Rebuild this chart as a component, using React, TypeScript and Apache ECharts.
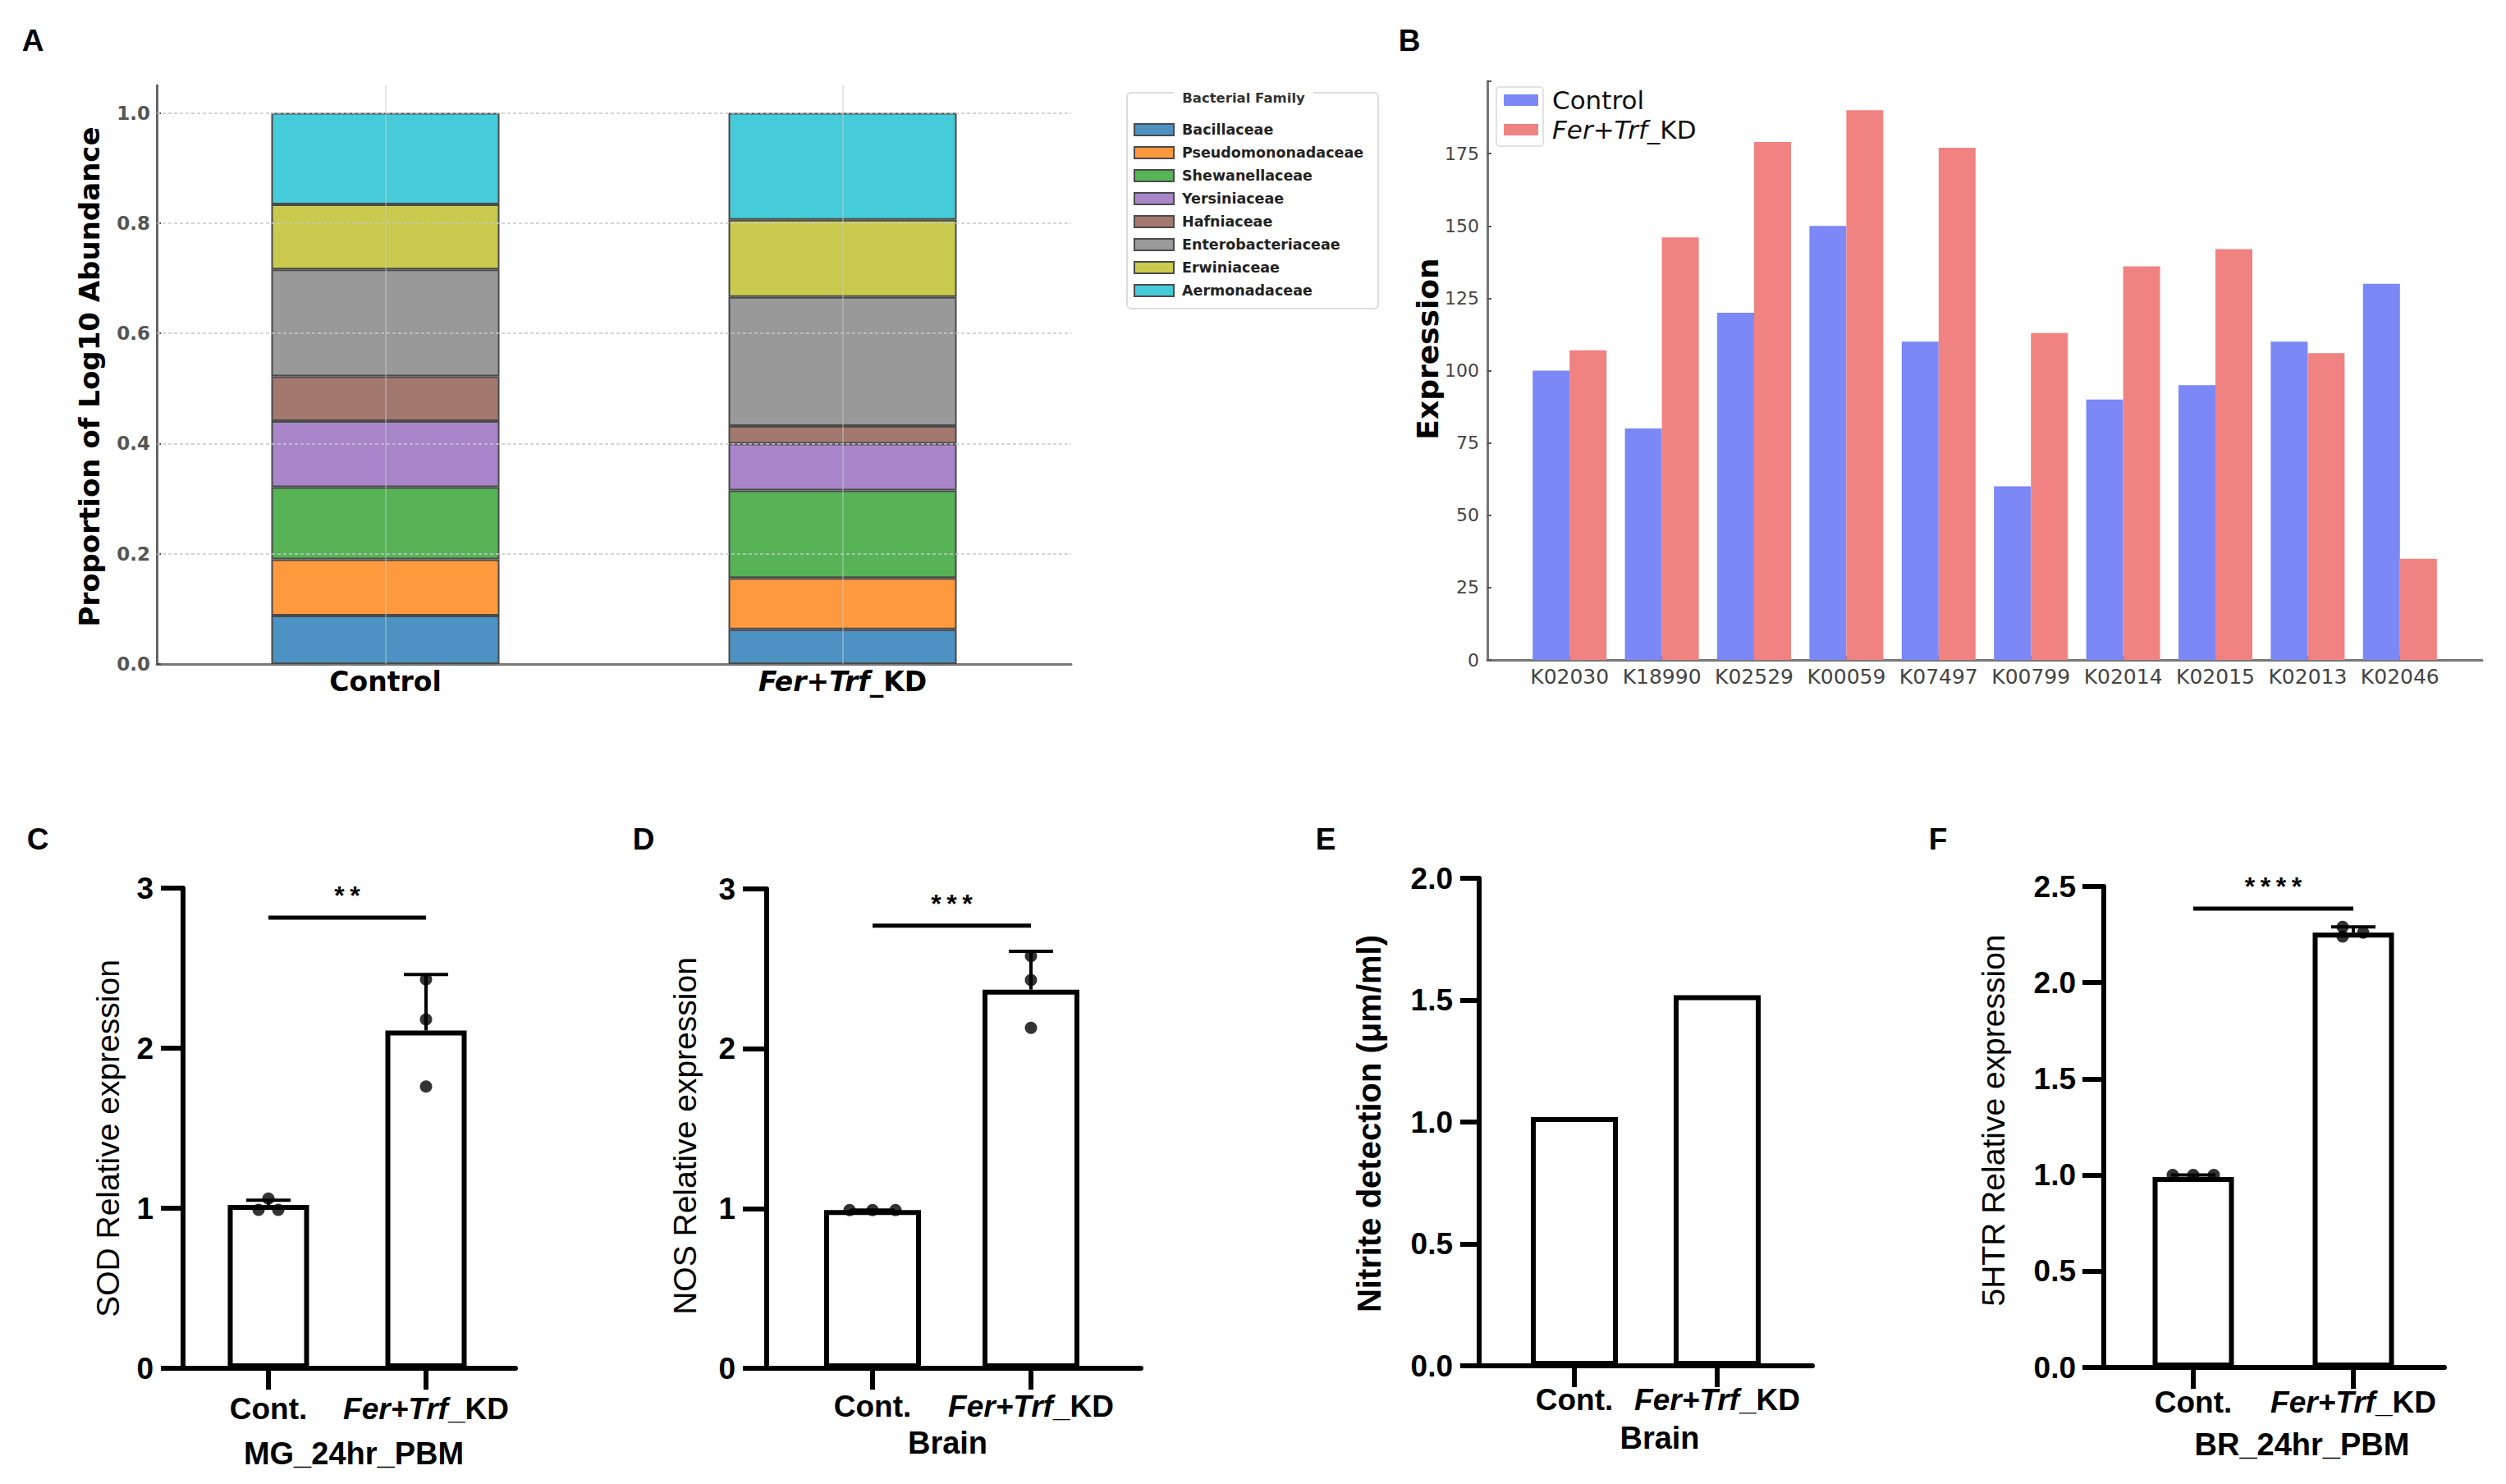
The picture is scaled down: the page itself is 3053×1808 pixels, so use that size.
import React, { useEffect, useRef } from 'react';
import * as echarts from 'echarts';

// ---------- Panel A data ----------
const familyNames = ['Bacillaceae', 'Pseudomononadaceae', 'Shewanellaceae', 'Yersiniaceae', 'Hafniaceae', 'Enterobacteriaceae', 'Erwiniaceae', 'Aermonadaceae'];
const abundanceGroups = ['Control', 'Fer+Trf_KD'];
const abundanceControl = [0.088, 0.102, 0.131, 0.120, 0.081, 0.194, 0.118, 0.166];
const abundanceKD = [0.063, 0.093, 0.159, 0.085, 0.032, 0.234, 0.140, 0.194];
const abundanceGridTicks = [0.2, 0.4, 0.6, 0.8, 1.0];

// ---------- Panel B data ----------
const koGenes = ['K02030', 'K18990', 'K02529', 'K00059', 'K07497', 'K00799', 'K02014', 'K02015', 'K02013', 'K02046'];
const koControl = [100, 80, 120, 150, 110, 60, 90, 95, 110, 130];
const koKD = [107, 146, 179, 190, 177, 113, 136, 142, 106, 35];
const koSeriesNames = ['Control', 'Fer+Trf_KD'];

// ---------- Panels C-F data ----------
const qGroups = ['Cont.', 'Fer+Trf_KD'];
const sodMeans = [1.02, 2.11];
const sodErrTop = [1.05, 2.46];
const sodDotsCont = [0.99, 1.06, 0.99];
const sodDotsKD = [2.43, 2.18, 1.76];
const sodSigLevel = 2.815;

const nosMeans = [0.99, 2.37];
const nosErrTop = [0.99, 2.61];
const nosDotsCont = [0.99, 0.99, 0.99];
const nosDotsKD = [2.58, 2.43, 2.13];
const nosSigLevel = 2.77;

const nitriteMeans = [1.02, 1.52];

const htrMeans = [0.99, 2.26];
const htrErrTop = [1.0, 2.29];
const htrDotsCont = [1.0, 1.0, 1.0];
const htrDotsKD = [2.29, 2.24, 2.26];
const htrSigLevel = 2.385;

// ---------- styles ----------
const familyColors = ['#4c92c3', '#ff993e', '#56b356', '#a985ca', '#a3786f', '#999999', '#c9ca4e', '#45cbd9'];
const koColors = ['#7b88f5', '#f08282'];
const DV = "'DejaVu Sans', sans-serif";
const GPF = "'Liberation Sans', Arial, sans-serif";

type GP = {
  axisX: number; top: number; bottom: number; xRight: number; c1: number; c2: number;
  max: number; interval: number; decimals: number; barWidth: number; tickLen: number;
  tickLabelMargin: number; labelMargin: number; group: string; groupGap: number; groupPad: number[];
  means: number[]; errTop?: number[]; dotsCont?: number[]; dotsKD?: number[];
  jitterCont?: number[]; jitterKD?: number[]; sigLevel?: number; sigText?: string;
  yName: string; yNameX: number; yNameY: number; yNameBold: boolean; yNameSize: number;
};

const panels: GP[] = [
  {
    axisX: 223, top: 1082, bottom: 1667, xRight: 628, c1: 327, c2: 519, max: 3, interval: 1, decimals: 0,
    barWidth: 99, tickLen: 27, tickLabelMargin: 36, labelMargin: 31, group: 'MG_24hr_PBM', groupGap: 85, groupPad: [0, 0, 0, 16],
    means: sodMeans, errTop: sodErrTop, dotsCont: sodDotsCont, dotsKD: sodDotsKD, jitterCont: [-12, 0, 12], jitterKD: [0, 0, 0],
    sigLevel: sodSigLevel, sigText: '**', yName: 'SOD Relative expression', yNameX: 131, yNameY: 1387, yNameBold: false, yNameSize: 39,
  },
  {
    axisX: 934, top: 1083, bottom: 1667, xRight: 1390, c1: 1063, c2: 1256, max: 3, interval: 1, decimals: 0,
    barWidth: 118, tickLen: 29, tickLabelMargin: 38, labelMargin: 28, group: 'Brain', groupGap: 72, groupPad: [0, 10, 0, 0],
    means: nosMeans, errTop: nosErrTop, dotsCont: nosDotsCont, dotsKD: nosDotsKD, jitterCont: [-28, 0, 28], jitterKD: [0, 0, 0],
    sigLevel: nosSigLevel, sigText: '***', yName: 'NOS Relative expression', yNameX: 834, yNameY: 1384, yNameBold: false, yNameSize: 39,
  },
  {
    axisX: 1802, top: 1070, bottom: 1664, xRight: 2208, c1: 1918, c2: 2092, max: 2, interval: 0.5, decimals: 1,
    barWidth: 106, tickLen: 23, tickLabelMargin: 32, labelMargin: 23, group: 'Brain', groupGap: 69, groupPad: [0, 0, 0, 34],
    means: nitriteMeans, yName: 'Nitrite detection (μm/ml)', yNameX: 1668, yNameY: 1369, yNameBold: true, yNameSize: 40,
  },
  {
    axisX: 2563, top: 1080, bottom: 1666, xRight: 2978, c1: 2672, c2: 2867, max: 2.5, interval: 0.5, decimals: 1,
    barWidth: 99, tickLen: 26, tickLabelMargin: 34, labelMargin: 24, group: 'BR_24hr_PBM', groupGap: 75, groupPad: [0, 0, 0, 70],
    means: htrMeans, errTop: htrErrTop, dotsCont: htrDotsCont, dotsKD: htrDotsKD, jitterCont: [-25, 0, 25], jitterKD: [-13, -13, 12],
    sigLevel: htrSigLevel, sigText: '****', yName: '5HTR Relative expression', yNameX: 2428, yNameY: 1365, yNameBold: false, yNameSize: 39,
  },
];

const panelLetters = [
  { t: 'A', x: 40, y: 49 }, { t: 'B', x: 1717, y: 49 }, { t: 'C', x: 46, y: 1022 },
  { t: 'D', x: 784, y: 1022 }, { t: 'E', x: 1615, y: 1022 }, { t: 'F', x: 2361, y: 1022 },
];

function buildOption() {
  const grid: any[] = [];
  const xAxis: any[] = [];
  const yAxis: any[] = [];
  const series: any[] = [];
  const graphic: any[] = [];

  // ---------- Panel A (grid 0) ----------
  grid.push({ left: 191, top: 104, width: 1114, height: 705 });
  xAxis.push({
    gridIndex: 0, type: 'category', data: abundanceGroups,
    axisLine: { show: true, lineStyle: { color: '#777', width: 3 } },
    axisTick: { show: true, inside: true, alignWithLabel: true, length: 5, lineStyle: { color: '#444' } },
    axisLabel: {
      margin: 5, interval: 0,
      formatter: (v: string) => (v.startsWith('Fer') ? '{i|Fer+Trf}{b|_KD}' : '{b|' + v + '}'),
      rich: {
        b: { fontFamily: DV, fontWeight: 'bold', fontSize: 33, color: '#000' },
        i: { fontFamily: DV, fontWeight: 'bold', fontStyle: 'italic', fontSize: 33, color: '#000' },
      },
    },
    splitLine: { show: false },
  });
  yAxis.push({
    gridIndex: 0, type: 'value', min: 0, max: 1.05, interval: 0.2,
    axisLine: { show: true, lineStyle: { color: '#666', width: 3 } },
    axisTick: { show: true, inside: true, length: 5, lineStyle: { color: '#444', width: 2 } },
    axisLabel: {
      margin: 8, showMaxLabel: false, fontFamily: DV, fontWeight: 'bold', fontSize: 23, color: '#555',
      formatter: (v: number) => (v > 1.01 ? '' : v.toFixed(1)),
    },
    splitLine: { show: false },
  });
  series.push({
    type: 'line', xAxisIndex: 0, yAxisIndex: 0, data: [], silent: true, z: 1,
    markLine: {
      silent: true, symbol: ['none', 'none'], label: { show: false }, animation: false,
      lineStyle: { color: '#c8c8c8', type: [4, 3], width: 1.5 },
      data: abundanceGridTicks.map((v) => ({ yAxis: v })),
    },
  });
  familyNames.forEach((name, i) => {
    series.push({
      name, type: 'bar', stack: 'abund', xAxisIndex: 0, yAxisIndex: 0, barWidth: 278, z: 2,
      data: [abundanceControl[i], abundanceKD[i]],
      itemStyle: { color: familyColors[i], borderColor: '#4a4a4a', borderWidth: 2 },
    });
  });
  series.push({
    type: 'line', xAxisIndex: 0, yAxisIndex: 0, data: [], silent: true, z: 5,
    markLine: {
      silent: true, symbol: ['none', 'none'], label: { show: false }, animation: false,
      lineStyle: { color: 'rgba(200,200,200,0.45)', type: 'solid', width: 2 },
      data: abundanceGroups.map((g) => ({ xAxis: g })),
    },
  });

  // ---------- Panel B (grids 1, 2) ----------
  grid.push({ left: 1812, top: 99, width: 1212, height: 705 });
  grid.push({ left: 1856, top: 99, width: 1124, height: 705 });
  xAxis.push({
    gridIndex: 1, type: 'value', min: 0, max: 1,
    axisLine: { show: true, lineStyle: { color: '#777', width: 3 } },
    axisTick: { show: false }, axisLabel: { show: false }, splitLine: { show: false },
  });
  yAxis.push({
    gridIndex: 1, type: 'value', min: 0, max: 200, interval: 25,
    axisLine: { show: true, lineStyle: { color: '#777', width: 3 } },
    axisTick: { show: true, inside: true, length: 5, lineStyle: { color: '#555', width: 2 } },
    axisLabel: {
      margin: 10, fontFamily: DV, fontSize: 22, color: '#444',
      formatter: (v: number) => (v >= 200 ? '' : String(v)),
    },
    splitLine: { show: false },
  });
  xAxis.push({
    gridIndex: 2, type: 'category', data: koGenes,
    axisLine: { show: false },
    axisTick: { show: true, inside: true, alignWithLabel: true, interval: 0, length: 5, lineStyle: { color: '#333', width: 2 } },
    axisLabel: { margin: 8, interval: 0, fontFamily: DV, fontSize: 25, color: '#444' },
    splitLine: { show: false },
  });
  yAxis.push({ gridIndex: 2, type: 'value', min: 0, max: 200, show: false });
  series.push({
    name: koSeriesNames[0], type: 'bar', xAxisIndex: 2, yAxisIndex: 2, barWidth: 45, barGap: '0%',
    data: koControl, itemStyle: { color: koColors[0] },
  });
  series.push({
    name: koSeriesNames[1], type: 'bar', xAxisIndex: 2, yAxisIndex: 2, barWidth: 45, barGap: '0%',
    data: koKD, itemStyle: { color: koColors[1] },
  });

  // ---------- Panels C-F ----------
  panels.forEach((p, k) => {
    const gi = 3 + k * 2;
    const b = p.c2 - p.c1;
    grid.push({ left: p.axisX, top: p.top, width: p.xRight - p.axisX, height: p.bottom - p.top });
    grid.push({ left: p.c1 - b / 2, top: p.top, width: 2 * b, height: p.bottom - p.top });
    xAxis.push({
      gridIndex: gi, type: 'value', min: 0, max: 1,
      axisLine: { show: true, lineStyle: { color: '#000', width: 6 } },
      axisTick: { show: false }, axisLabel: { show: false }, splitLine: { show: false },
    });
    yAxis.push({
      gridIndex: gi, type: 'value', min: 0, max: p.max, interval: p.interval,
      axisLine: { show: true, lineStyle: { color: '#000', width: 6 } },
      axisTick: { show: true, length: p.tickLen, lineStyle: { color: '#000', width: 6 } },
      axisLabel: {
        margin: p.tickLabelMargin, fontFamily: GPF, fontWeight: 'bold', fontSize: 37, color: '#000',
        formatter: (v: number) => v.toFixed(p.decimals),
      },
      splitLine: { show: false },
    });
    xAxis.push({
      gridIndex: gi + 1, type: 'category', data: qGroups,
      axisLine: { show: false },
      axisTick: { show: true, alignWithLabel: true, length: 26, lineStyle: { color: '#000', width: 6 } },
      axisLabel: {
        margin: p.labelMargin, interval: 0,
        formatter: (v: string) => (v.startsWith('Fer') ? '{i|Fer+Trf}{n|_KD}' : '{n|' + v + '}'),
        rich: {
          n: { fontFamily: GPF, fontWeight: 'bold', fontSize: 37, color: '#000' },
          i: { fontFamily: GPF, fontWeight: 'bold', fontStyle: 'italic', fontSize: 37, color: '#000' },
        },
      },
      name: p.group, nameLocation: 'middle', nameGap: p.groupGap,
      nameTextStyle: { fontFamily: GPF, fontWeight: 'bold', fontSize: 38, color: '#000', padding: p.groupPad },
      splitLine: { show: false },
    });
    yAxis.push({ gridIndex: gi + 1, type: 'value', min: 0, max: p.max, show: false });

    series.push({
      type: 'bar', xAxisIndex: gi + 1, yAxisIndex: gi + 1, data: p.means, barWidth: p.barWidth, silent: true, z: 2,
      itemStyle: { color: '#fff', borderColor: '#000', borderWidth: 6 },
    });
    if (p.errTop) {
      const err = p.errTop;
      series.push({
        type: 'custom', xAxisIndex: gi + 1, yAxisIndex: gi + 1, z: 3, silent: true,
        data: p.means.map((m, i) => [i, m, err[i]]),
        renderItem: (params: any, api: any) => {
          const a = api.coord([api.value(0), api.value(1)]);
          const t = api.coord([api.value(0), api.value(2)]);
          return {
            type: 'group',
            children: [
              { type: 'line', shape: { x1: a[0], y1: a[1], x2: t[0], y2: t[1] }, style: { stroke: '#000', lineWidth: 4 } },
              { type: 'line', shape: { x1: t[0] - 27, y1: t[1], x2: t[0] + 27, y2: t[1] }, style: { stroke: '#000', lineWidth: 4 } },
            ],
          };
        },
      });
    }
    if (p.dotsCont && p.dotsKD) {
      const jc = p.jitterCont || [];
      const jk = p.jitterKD || [];
      series.push({
        type: 'scatter', xAxisIndex: gi + 1, yAxisIndex: gi + 1, z: 4, silent: true, symbolSize: 15,
        itemStyle: { color: '#000' },
        data: [
          ...p.dotsCont.map((v, i) => ({ value: [0, v], symbolOffset: [jc[i] || 0, 0] })),
          ...p.dotsKD.map((v, i) => ({ value: [1, v], symbolOffset: [jk[i] || 0, 0] })),
        ],
      });
    }
    if (p.sigLevel !== undefined && p.sigText) {
      const stars = p.sigText.split('').map(() => '{s|*}').join('');
      series.push({
        type: 'custom', xAxisIndex: gi + 1, yAxisIndex: gi + 1, z: 5, silent: true,
        data: [[0, p.sigLevel]],
        renderItem: (params: any, api: any) => {
          const a = api.coord([0, api.value(1)]);
          const c = api.coord([1, api.value(1)]);
          return {
            type: 'group',
            children: [
              { type: 'line', shape: { x1: a[0], y1: a[1], x2: c[0], y2: c[1] }, style: { stroke: '#000', lineWidth: 5 } },
              {
                type: 'text', x: (a[0] + c[0]) / 2, y: a[1] - 27,
                style: {
                  text: stars, align: 'center', verticalAlign: 'middle', fill: '#000',
                  fontFamily: GPF, fontWeight: 'bold', fontSize: 32,
                  rich: { s: { width: 19, align: 'center', fontFamily: GPF, fontWeight: 'bold', fontSize: 32, fill: '#000' } },
                },
              },
            ],
          };
        },
      });
    }
    graphic.push({
      type: 'text', x: p.yNameX, y: p.yNameY, rotation: Math.PI / 2,
      style: {
        text: p.yName, align: 'center', verticalAlign: 'middle', fill: '#000',
        fontFamily: GPF, fontWeight: p.yNameBold ? 'bold' : 'normal', fontSize: p.yNameSize,
      },
    });
  });

  // ---------- other texts ----------
  graphic.push({
    type: 'text', x: 109, y: 459, rotation: Math.PI / 2,
    style: { text: 'Proportion of Log10 Abundance', align: 'center', verticalAlign: 'middle', fill: '#000', fontFamily: DV, fontWeight: 'bold', fontSize: 34 },
  });
  graphic.push({
    type: 'text', x: 1739, y: 425, rotation: Math.PI / 2,
    style: { text: 'Expression', align: 'center', verticalAlign: 'middle', fill: '#000', fontFamily: DV, fontWeight: 'bold', fontSize: 36 },
  });
  graphic.push({
    type: 'text', x: 1515, y: 119, z: 100,
    style: {
      text: 'Bacterial Family', align: 'center', verticalAlign: 'middle', fill: '#333', fontFamily: DV, fontWeight: 'bold', fontSize: 16.5,
      backgroundColor: '#fff', padding: [2, 10],
    },
  });
  graphic.push({
    type: 'rect', shape: { x: 1823, y: 106, width: 57, height: 72, r: 4 }, z: -1,
    style: { fill: 'none', stroke: '#e2e2e2', lineWidth: 2 },
  });
  panelLetters.forEach((l) => {
    graphic.push({
      type: 'text', x: l.x, y: l.y,
      style: { text: l.t, align: 'center', verticalAlign: 'middle', fill: '#000', fontFamily: GPF, fontWeight: 'bold', fontSize: 37 },
    });
  });

  return {
    animation: false,
    backgroundColor: '#fff',
    grid,
    xAxis,
    yAxis,
    series,
    graphic,
    legend: [
      {
        data: familyNames, orient: 'vertical', left: 1373, top: 113, selectedMode: false,
        padding: [35, 18, 12, 8], itemWidth: 48, itemHeight: 14, itemGap: 8, icon: 'rect',
        textStyle: { fontFamily: DV, fontWeight: 'bold', fontSize: 17.5, color: '#222', lineHeight: 20, padding: [0, 0, 0, 5] },
        borderColor: '#dcdcdc', borderWidth: 2, borderRadius: 5, backgroundColor: '#fff',
      },
      {
        data: koSeriesNames, orient: 'vertical', left: 1832, top: 106, selectedMode: false,
        padding: 0, itemWidth: 42, itemHeight: 14, itemGap: 4, icon: 'rect',
        formatter: (name: string) => (name.startsWith('Fer') ? '{i|Fer+Trf}{n|_KD}' : '{n|' + name + '}'),
        textStyle: {
          fontFamily: DV, fontSize: 31, color: '#111', lineHeight: 32, padding: [0, 0, 0, 12],
          rich: {
            n: { fontFamily: DV, fontSize: 31, color: '#111' },
            i: { fontFamily: DV, fontSize: 31, color: '#111', fontStyle: 'italic' },
          },
        },
      },
    ],
  };
}

export default function App() {
  const ref = useRef<HTMLDivElement>(null);
  useEffect(() => {
    document.body.style.margin = '0';
    if (!ref.current) return;
    const chart = echarts.init(ref.current, undefined, { renderer: 'svg' });
    chart.setOption(buildOption() as any);
    return () => chart.dispose();
  }, []);
  return <div ref={ref} style={{ width: 3053, height: 1808, background: '#fff' }} />;
}
